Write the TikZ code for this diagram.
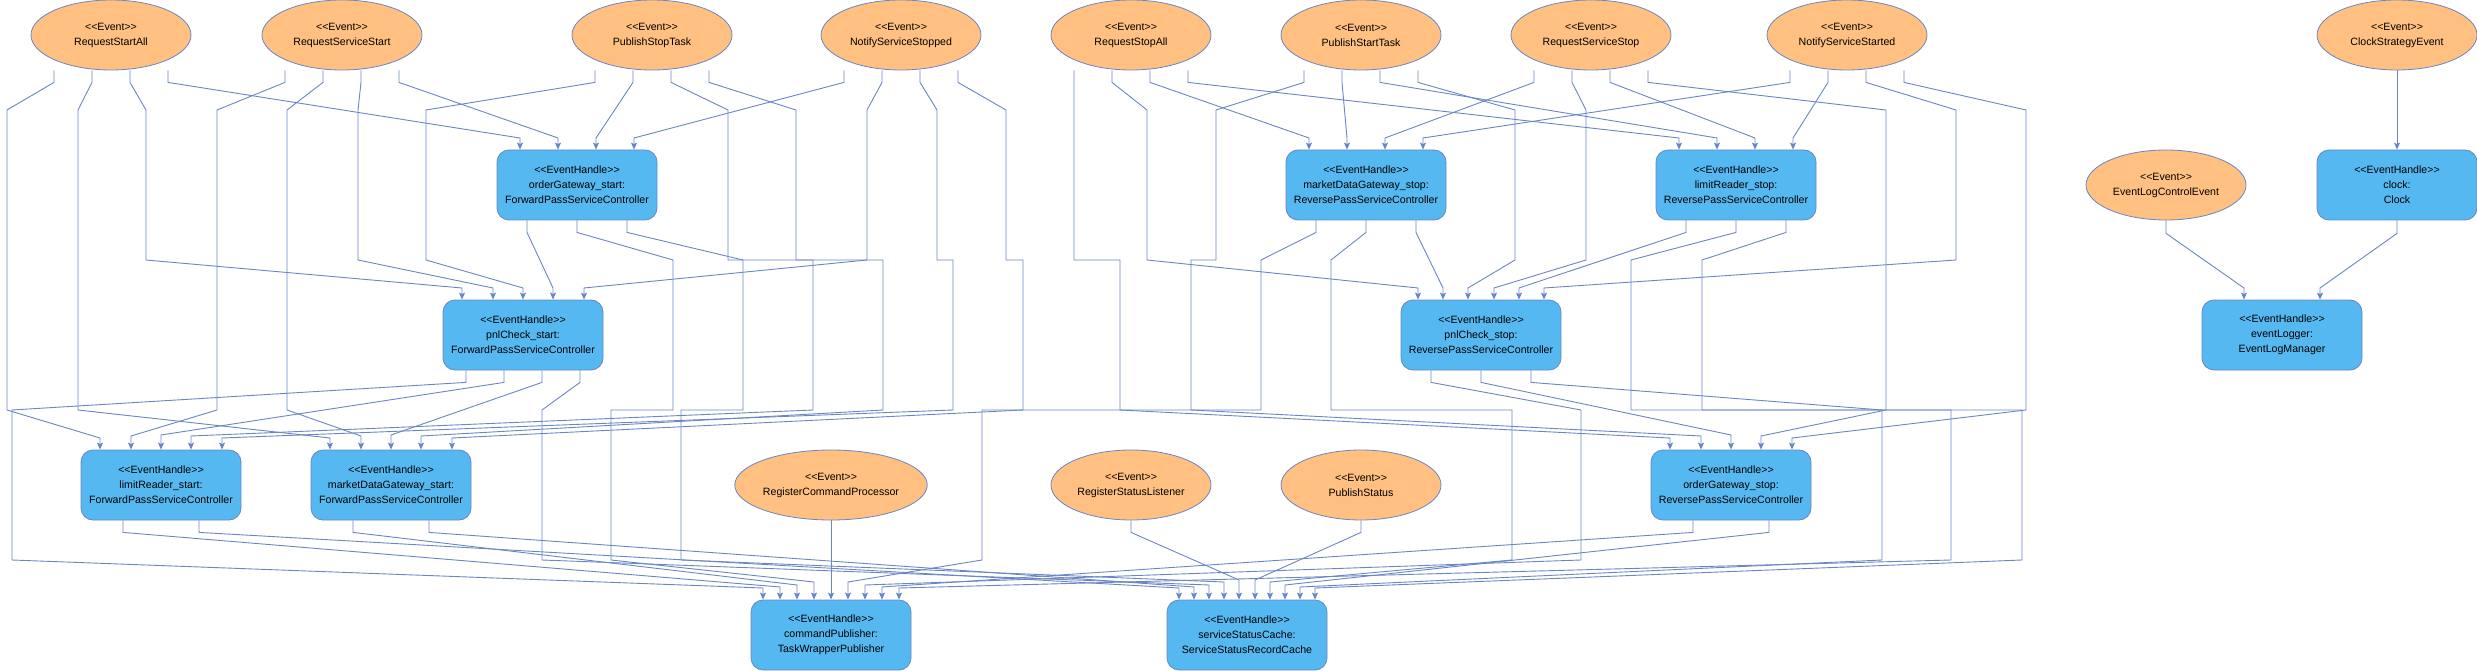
\documentclass[tikz,border=0pt]{standalone}
\usepackage{fontspec}
\setmainfont{Liberation Sans}
\usetikzlibrary{arrows.meta, shapes.geometric, calc}
\definecolor{edgeBlue}{HTML}{6A86C4}
\definecolor{evtOrange}{HTML}{FFC081}
\definecolor{hdlBlue}{HTML}{55B8F0}
\newcommand{\stereo}[1]{{<}{<}#1{>}{>}}
\newcommand{\nodefont}{\fontsize{10.6}{15}\selectfont}
\tikzset{
  evt/.style={ellipse, draw=edgeBlue, fill=evtOrange, line width=0.8pt,
              minimum width=160pt, minimum height=70pt, inner sep=0pt,
              align=center, font=\nodefont},
  hdl/.style={rectangle, rounded corners=12pt, draw=edgeBlue, fill=hdlBlue,
              line width=0.8pt, minimum width=160pt, minimum height=70pt,
              inner sep=0pt, align=center, font=\nodefont},
  edge/.style={draw=edgeBlue, line width=0.9pt,
               -{Stealth[length=7pt, width=6pt, inset=1.5pt]}},
}

\begin{document}
\begin{tikzpicture}[x=1pt, y=-1pt]
    \fill[white] (0,0) rectangle (2477,671);
    \useasboundingbox (0,0) rectangle (2477,671);
    \node[evt] (rsa) at (111,35) {\stereo{Event}\\RequestStartAll};
    \node[evt] (rss) at (342,35) {\stereo{Event}\\RequestServiceStart};
    \node[evt] (pst) at (652,35) {\stereo{Event}\\PublishStopTask};
    \node[evt] (nsp) at (901,35) {\stereo{Event}\\NotifyServiceStopped};
    \node[evt] (rsta) at (1131,35) {\stereo{Event}\\RequestStopAll};
    \node[evt] (pstt) at (1361,35) {\stereo{Event}\\PublishStartTask};
    \node[evt] (rsst) at (1591,35) {\stereo{Event}\\RequestServiceStop};
    \node[evt] (nss) at (1847,35) {\stereo{Event}\\NotifyServiceStarted};
    \node[evt] (cse) at (2397,35) {\stereo{Event}\\ClockStrategyEvent};
    \node[hdl] (ogwStart) at (577,185) {\stereo{EventHandle}\\orderGateway\_start:\\ForwardPassServiceController};
    \node[hdl] (mdgStop) at (1366,185) {\stereo{EventHandle}\\marketDataGateway\_stop:\\ReversePassServiceController};
    \node[hdl] (lrStop) at (1736,185) {\stereo{EventHandle}\\limitReader\_stop:\\ReversePassServiceController};
    \node[evt] (elce) at (2166,185) {\stereo{Event}\\EventLogControlEvent};
    \node[hdl] (clock) at (2397,185) {\stereo{EventHandle}\\clock:\\Clock};
    \node[hdl] (pnlStart) at (523,335) {\stereo{EventHandle}\\pnlCheck\_start:\\ForwardPassServiceController};
    \node[hdl] (pnlStop) at (1481,335) {\stereo{EventHandle}\\pnlCheck\_stop:\\ReversePassServiceController};
    \node[hdl] (evLog) at (2282,335) {\stereo{EventHandle}\\eventLogger:\\EventLogManager};
    \node[hdl] (lrStart) at (161,485) {\stereo{EventHandle}\\limitReader\_start:\\ForwardPassServiceController};
    \node[hdl] (mdgStart) at (391,485) {\stereo{EventHandle}\\marketDataGateway\_start:\\ForwardPassServiceController};
    \node[evt] (rcp) at (831,485) {\stereo{Event}\\RegisterCommandProcessor};
    \node[evt] (rsl) at (1131,485) {\stereo{Event}\\RegisterStatusListener};
    \node[evt] (ps) at (1361,485) {\stereo{Event}\\PublishStatus};
    \node[hdl] (ogwStop) at (1731,485) {\stereo{EventHandle}\\orderGateway\_stop:\\ReversePassServiceController};
    \node[hdl] (cmdPub) at (831,635) {\stereo{EventHandle}\\commandPublisher:\\TaskWrapperPublisher};
    \node[hdl] (cache) at (1247,635) {\stereo{EventHandle}\\serviceStatusCache:\\ServiceStatusRecordCache};

    \draw[edge] ($(rsa.south)+(-57,0)$) -- ++(0,12) -- (7,110) -- (7,410) -- (100,438) -- ($(lrStart.north)+(-61,0)$);
    \draw[edge] ($(rsa.south)+(-19,0)$) -- ++(0,12) -- (78,110) -- (78,410) -- (330,438) -- ($(mdgStart.north)+(-61,0)$);
    \draw[edge] ($(rsa.south)+(19,0)$) -- ++(0,12) -- (146,110) -- (146,260) -- (462,288) -- ($(pnlStart.north)+(-61,0)$);
    \draw[edge] ($(rsa.south)+(57,0)$) -- ++(0,12) -- (520,138) -- ($(ogwStart.north)+(-57,0)$);
    \draw[edge] ($(rss.south)+(-57,0)$) -- ++(0,12) -- (217,110) -- (217,410) -- (131,436) -- ($(lrStart.north)+(-30,0)$);
    \draw[edge] ($(rss.south)+(-19,0)$) -- ++(0,12) -- (287,110) -- (287,410) -- (361,436) -- ($(mdgStart.north)+(-30,0)$);
    \draw[edge] ($(rss.south)+(19,0)$) -- ++(0,12) -- (358,110) -- (358,260) -- (493,288) -- ($(pnlStart.north)+(-30,0)$);
    \draw[edge] ($(rss.south)+(57,0)$) -- ++(0,12) -- (558,138) -- ($(ogwStart.north)+(-19,0)$);
    \draw[edge] ($(pst.south)+(-57,0)$) -- ++(0,12) -- (426,110) -- (426,260) -- (523,288) -- (pnlStart.north);
    \draw[edge] ($(pst.south)+(-19,0)$) -- ++(0,12) -- (596,138) -- ($(ogwStart.north)+(19,0)$);
    \draw[edge] ($(pst.south)+(19,0)$) -- ++(0,12) -- (728,110) -- (728,260) -- (883,260) -- (883,410) -- (421,436) -- ($(mdgStart.north)+(30,0)$);
    \draw[edge] ($(pst.south)+(57,0)$) -- ++(0,12) -- (796,110) -- (796,260) -- (813,260) -- (813,410) -- (191,436) -- ($(lrStart.north)+(30,0)$);
    \draw[edge] ($(nsp.south)+(-57,0)$) -- ++(0,12) -- (634,138) -- ($(ogwStart.north)+(57,0)$);
    \draw[edge] ($(nsp.south)+(-19,0)$) -- ++(0,12) -- (867,110) -- (867,260) -- (584,288) -- ($(pnlStart.north)+(61,0)$);
    \draw[edge] ($(nsp.south)+(19,0)$) -- ++(0,12) -- (937,110) -- (937,260) -- (953,260) -- (953,410) -- (222,438) -- ($(lrStart.north)+(61,0)$);
    \draw[edge] ($(nsp.south)+(57,0)$) -- ++(0,12) -- (1006,110) -- (1006,260) -- (1023,260) -- (1023,410) -- (452,438) -- ($(mdgStart.north)+(61,0)$);

    \draw[edge] ($(rsta.south)+(-57,0)$) -- (1074,260) -- (1120,260) -- (1120,410) -- (1670,438) -- ($(ogwStop.north)+(-61,0)$);
    \draw[edge] ($(rsta.south)+(-19,0)$) -- ++(0,12) -- (1147,110) -- (1147,260) -- (1418,288) -- ($(pnlStop.north)+(-63,0)$);
    \draw[edge] ($(rsta.south)+(19,0)$) -- ++(0,12) -- (1309,138) -- ($(mdgStop.north)+(-57,0)$);
    \draw[edge] ($(rsta.south)+(57,0)$) -- ++(0,12) -- (1679,138) -- ($(lrStop.north)+(-57,0)$);
    \draw[edge] ($(pstt.south)+(-57,0)$) -- ++(0,12) -- (1216,110) -- (1216,260) -- (1191,260) -- (1191,410) -- (1701,436) -- ($(ogwStop.north)+(-30,0)$);
    \draw[edge] ($(pstt.south)+(-19,0)$) -- ++(0,12) -- (1347,138) -- ($(mdgStop.north)+(-19,0)$);
    \draw[edge] ($(pstt.south)+(19,0)$) -- ++(0,12) -- (1717,138) -- ($(lrStop.north)+(-19,0)$);
    \draw[edge] ($(pstt.south)+(57,0)$) -- ++(0,12) -- (1515,110) -- (1515,260) -- (1468,288) -- ($(pnlStop.north)+(-13,0)$);
    \draw[edge] ($(rsst.south)+(-57,0)$) -- ++(0,12) -- (1385,138) -- ($(mdgStop.north)+(19,0)$);
    \draw[edge] ($(rsst.south)+(-19,0)$) -- ++(0,12) -- (1586,110) -- (1586,260) -- (1494,288) -- ($(pnlStop.north)+(13,0)$);
    \draw[edge] ($(rsst.south)+(19,0)$) -- ++(0,12) -- (1755,138) -- ($(lrStop.north)+(19,0)$);
    \draw[edge] ($(rsst.south)+(57,0)$) -- ++(0,12) -- (1886,110) -- (1886,410) -- (1761,436) -- ($(ogwStop.north)+(30,0)$);
    \draw[edge] ($(nss.south)+(-57,0)$) -- ++(0,12) -- (1423,138) -- ($(mdgStop.north)+(57,0)$);
    \draw[edge] ($(nss.south)+(-19,0)$) -- ++(0,12) -- (1793,138) -- ($(lrStop.north)+(57,0)$);
    \draw[edge] ($(nss.south)+(19,0)$) -- ++(0,12) -- (1956,110) -- (1956,260) -- (1544,288) -- ($(pnlStop.north)+(63,0)$);
    \draw[edge] ($(nss.south)+(57,0)$) -- ++(0,12) -- (2026,110) -- (2026,410) -- (1792,438) -- ($(ogwStop.north)+(61,0)$);

    \draw[edge] ($(ogwStart.south)+(-50,0)$) -- ++(0,12) -- (553,288) -- ($(pnlStart.north)+(30,0)$);
    \draw[edge] (ogwStart.south) -- ++(0,12) -- (673,260) -- (673,410) -- (611,410) -- (611,560) -- (814,582) -- ($(cmdPub.north)+(-17,0)$);
    \draw[edge] ($(ogwStart.south)+(50,0)$) -- ++(0,12) -- (743,260) -- (743,410) -- (681,410) -- (681,560) -- (1224,582) -- ($(cache.north)+(-23,0)$);
    \draw[edge] ($(mdgStop.south)+(-50,0)$) -- ++(0,12) -- (1261,260) -- (1261,410) -- (982,410) -- (982,560) -- (848,582) -- ($(cmdPub.north)+(17,0)$);
    \draw[edge] (mdgStop.south) -- ++(0,12) -- (1331,260) -- (1331,410) -- (1512,410) -- (1512,560) -- (1270,582) -- ($(cache.north)+(23,0)$);
    \draw[edge] ($(mdgStop.south)+(50,0)$) -- ++(0,12) -- (1443,288) -- ($(pnlStop.north)+(-38,0)$);
    \draw[edge] ($(lrStop.south)+(-50,0)$) -- ++(0,12) -- (1519,288) -- ($(pnlStop.north)+(38,0)$);
    \draw[edge] (lrStop.south) -- ++(0,12) -- (1631,260) -- (1631,410) -- (1951,410) -- (1951,560) -- (899,588) -- ($(cmdPub.north)+(68,0)$);
    \draw[edge] ($(lrStop.south)+(50,0)$) -- ++(0,12) -- (1702,260) -- (1702,410) -- (2022,410) -- (2022,560) -- (1315,588) -- ($(cache.north)+(68,0)$);

    \draw[edge] ($(pnlStart.south)+(-57,0)$) -- ++(0,12) -- (12,410) -- (12,560) -- (763,588) -- ($(cmdPub.north)+(-68,0)$);
    \draw[edge] ($(pnlStart.south)+(-19,0)$) -- ++(0,12) -- (161,435) -- (lrStart.north);
    \draw[edge] ($(pnlStart.south)+(19,0)$) -- ++(0,12) -- (391,435) -- (mdgStart.north);
    \draw[edge] ($(pnlStart.south)+(57,0)$) -- ++(0,12) -- (542,410) -- (542,560) -- (1209,585) -- ($(cache.north)+(-38,0)$);
    \draw[edge] ($(pnlStop.south)+(-50,0)$) -- ++(0,12) -- (1581,410) -- (1581,560) -- (865,585) -- ($(cmdPub.north)+(34,0)$);
    \draw[edge] (pnlStop.south) -- ++(0,12) -- (1731,435) -- (ogwStop.north);
    \draw[edge] ($(pnlStop.south)+(50,0)$) -- ++(0,12) -- (1882,410) -- (1882,560) -- (1300,587) -- ($(cache.north)+(53,0)$);

    \draw[edge] ($(lrStart.south)+(-38,0)$) -- ++(0,12) -- (780,587) -- ($(cmdPub.north)+(-51,0)$);
    \draw[edge] ($(lrStart.south)+(38,0)$) -- ++(0,12) -- (1179,588) -- ($(cache.north)+(-68,0)$);
    \draw[edge] ($(mdgStart.south)+(-38,0)$) -- ++(0,12) -- (797,585) -- ($(cmdPub.north)+(-34,0)$);
    \draw[edge] ($(mdgStart.south)+(38,0)$) -- ++(0,12) -- (1194,587) -- ($(cache.north)+(-53,0)$);
    \draw[edge] ($(ogwStop.south)+(-38,0)$) -- ++(0,12) -- (882,587) -- ($(cmdPub.north)+(51,0)$);
    \draw[edge] ($(ogwStop.south)+(38,0)$) -- ++(0,12) -- (1285,585) -- ($(cache.north)+(38,0)$);
    \draw[edge] (rcp) -- (cmdPub);
    \draw[edge] (rsl.south) -- ++(0,12) -- (1239,580) -- ($(cache.north)+(-8,0)$);
    \draw[edge] (ps.south) -- ++(0,12) -- (1255,580) -- ($(cache.north)+(8,0)$);

    \draw[edge] (cse) -- (clock);
    \draw[edge] (clock.south) -- ++(0,13) -- (2320,288) -- ($(evLog.north)+(38,0)$);
    \draw[edge] (elce.south) -- ++(0,13) -- (2244,288) -- ($(evLog.north)+(-38,0)$);
\end{tikzpicture}
\end{document}
